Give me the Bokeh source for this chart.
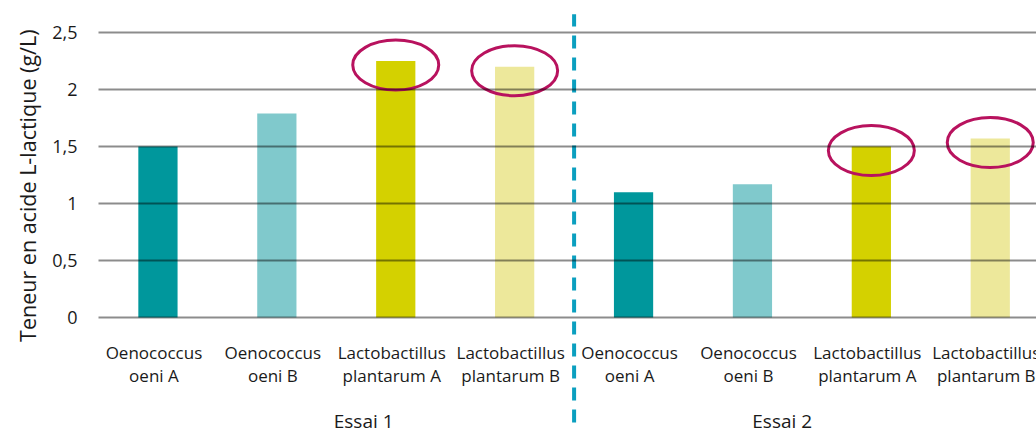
import math
from bokeh.plotting import figure
from bokeh.models import Range1d, FixedTicker, CustomJSTickFormatter, Title, ColumnDataSource
from bokeh.core.properties import value
from bokeh.embed import file_html
from bokeh.resources import INLINE

# ---- data ----
strains = ["Oenococcus\noeni A", "Oenococcus\noeni B",
           "Lactobactillus\nplantarum A", "Lactobactillus\nplantarum B"]
trials = ["Essai 1", "Essai 2"]
values_essai1 = [1.50, 1.79, 2.25, 2.20]
values_essai2 = [1.10, 1.17, 1.50, 1.57]
highlighted = ["Lactobactillus\nplantarum A", "Lactobactillus\nplantarum B"]
y_ticks = [0, 0.5, 1, 1.5, 2, 2.5]
y_title = "Teneur en acide L-lactique (g/L)"
strain_colors = ["#00979c", "#80c9cc", "#d4d100", "#ede89b"]

FONT = "Open Sans"
TXT = "#1a1a1a"

# ---- build table ----
xs, vals, cols, line1, line2, hl = [], [], [], [], [], []
for t, vs in zip(trials, [values_essai1, values_essai2]):
    for s, v, c in zip(strains, vs, strain_colors):
        xs.append(len(xs) + 0.5)
        vals.append(v)
        cols.append(c)
        a, b = s.split("\n")
        line1.append(a)
        line2.append(b)
        hl.append(s in highlighted)
src = ColumnDataSource(dict(x=xs, v=vals, c=cols, l1=line1, l2=line2))
hx = [x for x, h in zip(xs, hl) if h]
hv = [v - 0.035 for v, h in zip(vals, hl) if h]

n_per = len(strains)
group_x = [2.23, 5.75]

p = figure(width=1036, height=430, output_backend="svg", toolbar_location=None,
           x_range=Range1d(0, 7.889), y_range=Range1d(-0.991, 2.781),
           x_axis_location=None, min_border_left=98, min_border_right=0,
           min_border_top=0, min_border_bottom=0, background_fill_color="white",
           border_fill_color="white")
p.outline_line_color = None
p.xgrid.visible = False

yax = p.yaxis[0]
yax.ticker = FixedTicker(ticks=y_ticks)
yax.formatter = CustomJSTickFormatter(code="return tick.toString().replace('.', ',')")
yax.axis_line_color = None
yax.major_tick_line_color = None
yax.minor_tick_line_color = None
yax.major_tick_out = 0
yax.major_tick_in = 0
yax.major_label_standoff = 21
yax.major_label_text_font = FONT
yax.major_label_text_font_size = "18px"
yax.major_label_text_color = TXT

p.ygrid.ticker = FixedTicker(ticks=y_ticks)
p.ygrid.grid_line_color = "black"
p.ygrid.grid_line_alpha = 0.45
p.ygrid.grid_line_width = 1.8
p.ygrid.level = "annotation"

p.vbar(x="x", top="v", bottom=0, width=0.33, fill_color="c", line_color=None, source=src)

# highlight ellipses
p.ellipse(x=hx, y=hv, width=86, height=50, width_units="screen", height_units="screen",
          fill_color=None, line_color="#b8125e", line_width=3)

# separator between trials
p.segment(x0=[n_per], y0=[-0.92], x1=[n_per], y1=[2.66], line_color="#0b9fbf",
          line_width=4, line_dash="13 9")

# category labels
p.text(x="x", y=0, text="l1", source=src, x_offset=-4, y_offset=35,
       text_font=value(FONT), text_font_size="17px", text_color=TXT,
       text_align="center", text_baseline="alphabetic")
p.text(x="x", y=0, text="l2", source=src, x_offset=-4, y_offset=58,
       text_font=value(FONT), text_font_size="17px", text_color=TXT,
       text_align="center", text_baseline="alphabetic")
# group labels
p.text(x=group_x, y=[0, 0], text=trials, y_offset=103,
       text_font=value(FONT), text_font_size="19px", text_color=TXT,
       text_align="center", text_baseline="alphabetic")

# y-axis title
p.add_layout(Title(text=y_title, align="right", offset=29, standoff=15,
                   text_font=FONT, text_font_size="21.5px", text_font_style="normal",
                   text_color=TXT), "left")

open("out.html", "w").write(file_html(p, INLINE))
